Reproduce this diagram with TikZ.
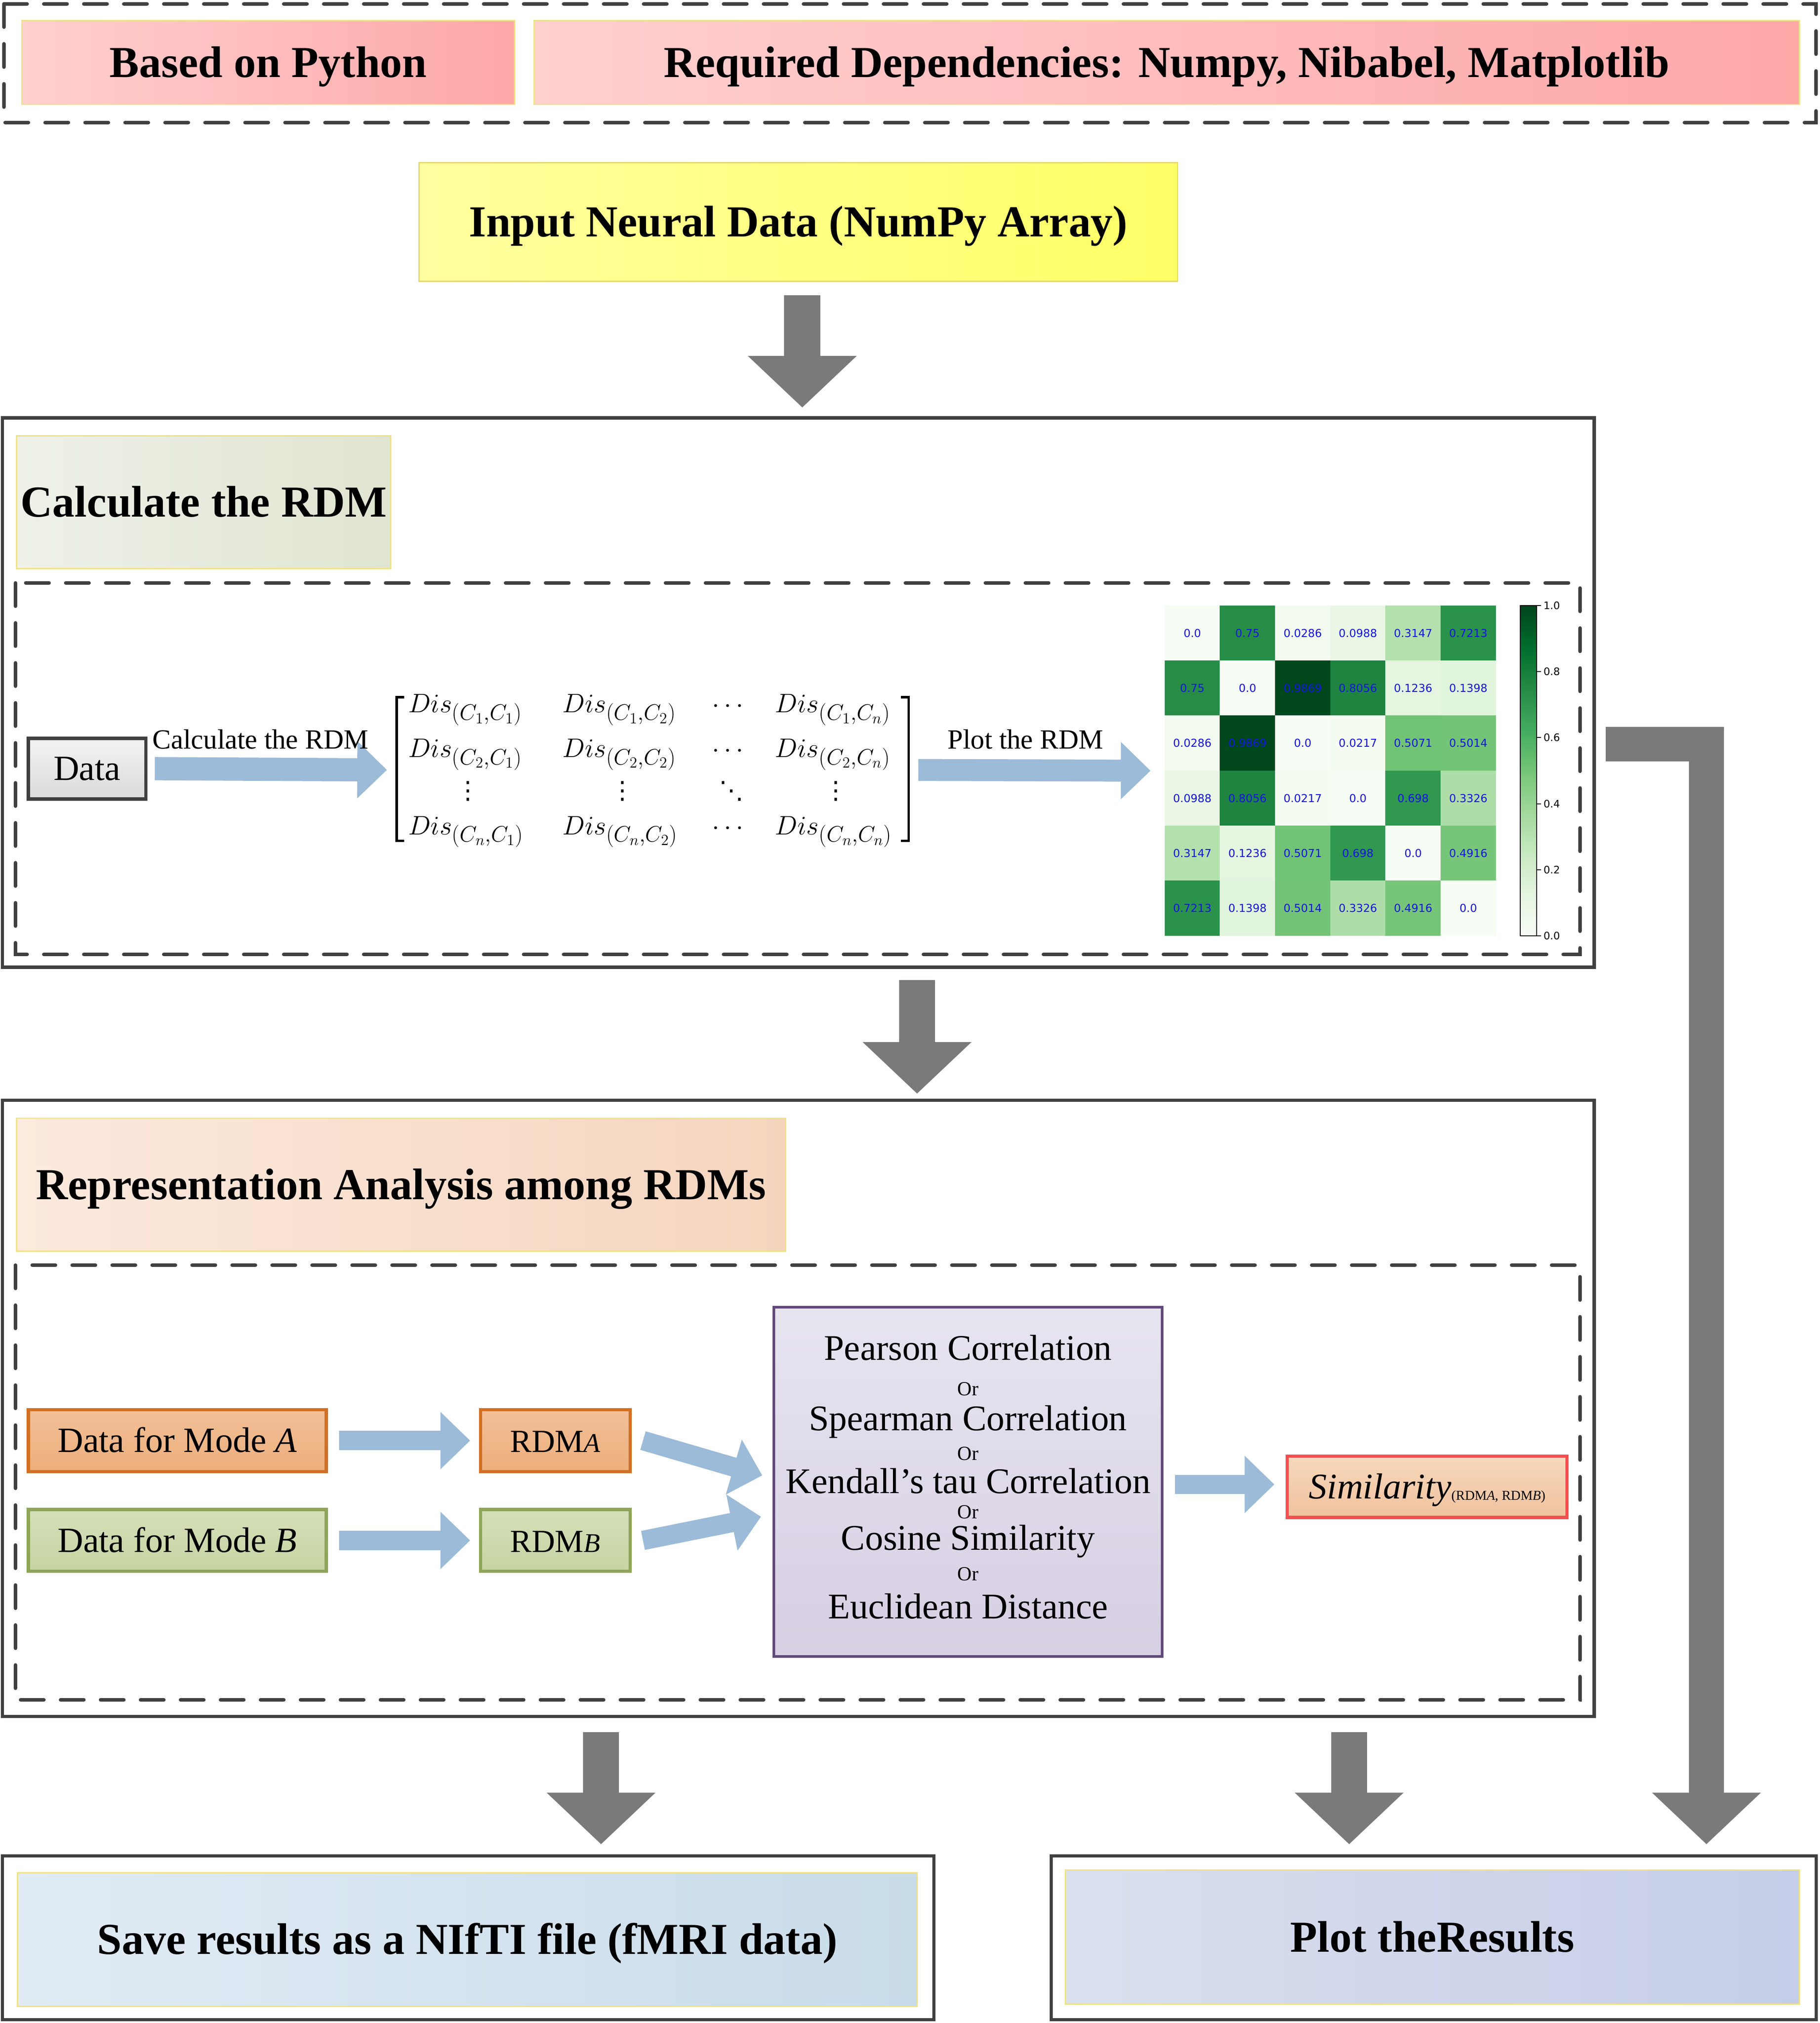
\documentclass[tikz,border=0pt]{standalone}
\usepackage{amsmath}
\usepackage{fontspec}
\setmainfont{Liberation Serif}
\newfontfamily\dvs{DejaVu Sans}
\usetikzlibrary{arrows.meta,calc}
\DeclareMathSizes{21}{21}{16.5}{12.5}

\definecolor{dg}{RGB}{64,64,64}
\definecolor{arrgray}{RGB}{122,122,122}
\definecolor{arrblue}{RGB}{155,187,217}
\definecolor{ybord}{RGB}{240,226,130}
\definecolor{pkL}{RGB}{255,208,208}
\definecolor{pkR}{RGB}{254,168,168}
\definecolor{ywL}{RGB}{255,255,160}
\definecolor{ywR}{RGB}{255,255,102}
\definecolor{ywB}{RGB}{230,215,110}
\definecolor{grL}{RGB}{239,241,233}
\definecolor{grR}{RGB}{223,229,208}
\definecolor{peL}{RGB}{252,234,222}
\definecolor{peR}{RGB}{245,213,190}
\definecolor{blL}{RGB}{225,235,244}
\definecolor{blR}{RGB}{201,220,234}
\definecolor{lvL}{RGB}{219,224,238}
\definecolor{lvR}{RGB}{197,205,232}
\definecolor{datT}{RGB}{243,243,243}
\definecolor{datB}{RGB}{218,218,218}
\definecolor{orT}{RGB}{242,192,152}
\definecolor{orB}{RGB}{236,174,124}
\definecolor{orD}{RGB}{210,112,36}
\definecolor{gnT}{RGB}{213,223,185}
\definecolor{gnB}{RGB}{198,212,162}
\definecolor{gnD}{RGB}{143,165,88}
\definecolor{mtT}{RGB}{231,228,240}
\definecolor{mtB}{RGB}{215,207,227}
\definecolor{mtD}{RGB}{96,74,123}
\definecolor{smT}{RGB}{246,216,188}
\definecolor{smB}{RGB}{240,194,158}
\definecolor{smD}{RGB}{242,80,80}
\definecolor{hmblue}{RGB}{20,20,225}
% Greens colormap anchors
\definecolor{g0}{RGB}{247,252,245}
\definecolor{g1}{RGB}{229,245,224}
\definecolor{g2}{RGB}{199,233,192}
\definecolor{g3}{RGB}{161,217,155}
\definecolor{g4}{RGB}{116,196,118}
\definecolor{g5}{RGB}{65,171,93}
\definecolor{g6}{RGB}{35,139,69}
\definecolor{g7}{RGB}{0,109,44}
\definecolor{g8}{RGB}{0,68,27}
% cell colours
\definecolor{hZero}{RGB}{247,252,245}
\definecolor{hA}{RGB}{244,251,241}   % 0.0217
\definecolor{hB}{RGB}{243,250,240}   % 0.0286
\definecolor{hC}{RGB}{233,247,228}   % 0.0988
\definecolor{hD}{RGB}{229,245,224}   % 0.1236
\definecolor{hE}{RGB}{225,244,220}   % 0.1398
\definecolor{hF}{RGB}{179,225,173}   % 0.3147
\definecolor{hG}{RGB}{174,222,168}   % 0.3326
\definecolor{hH}{RGB}{119,197,121}   % 0.4916
\definecolor{hI}{RGB}{115,196,118}   % 0.5014
\definecolor{hJ}{RGB}{113,195,117}   % 0.5071
\definecolor{hK}{RGB}{48,152,79}     % 0.698
\definecolor{hL}{RGB}{42,146,75}     % 0.7213
\definecolor{hM}{RGB}{38,140,70}     % 0.75
\definecolor{hN}{RGB}{30,132,64}     % 0.8056
\definecolor{hO}{RGB}{2,72,29}       % 0.9869

\newcommand\hd{\fontsize{34.3}{40}\selectfont\bfseries}
\newcommand\lbfont{\fontsize{21.5}{25}\selectfont}
\newcommand\hmfont{\dvs\fontsize{8.5}{10}\selectfont}
\newcommand\cbfont{\dvs\fontsize{8}{10}\selectfont}
\newcommand\mdfont{\fontsize{28}{32}\selectfont}
\newcommand\orfont{\fontsize{15.5}{18}\selectfont}
\newcommand\bxfont{\fontsize{27.5}{32}\selectfont}
\newcommand\mxfont{\fontsize{21}{25}\selectfont}
\newcommand\dotsfont{\dvs\fontsize{19}{19}\selectfont}

\tikzset{
  solidbox/.style={draw=dg, line width=2.5pt, inner sep=0pt, outer sep=0pt},
  dashbox/.style={draw=dg, line width=2.8pt, dash pattern=on 18pt off 13pt, line cap=round},
  titlebox/.style={draw=ybord, line width=1pt, inner sep=0pt, outer sep=0pt, align=center,
                   font=\hd, text height=22.7pt, text depth=0pt},
  smallbox/.style={line width=2.5pt, inner sep=0pt, outer sep=0pt, align=center,
                   font=\bxfont, text height=18.2pt, text depth=0pt},
  bluearrow/.style={draw=arrblue, line width=15pt, -{Triangle[width=43pt,length=23pt]}},
  grayarrow/.style={draw=arrgray, line width=28pt, -{Triangle[width=82pt,length=40pt]}},
  hmcell/.style={minimum width=42.9pt, minimum height=42.8pt, inner sep=0pt, outer sep=0pt,
                 text=hmblue, font=\hmfont},
  lab/.style={inner sep=0pt, outer sep=0pt, font=\lbfont, anchor=base},
  mtext/.style={inner sep=0pt, outer sep=0pt, font=\mdfont, anchor=base},
  ortext/.style={inner sep=0pt, outer sep=0pt, font=\orfont, anchor=base},
  mentry/.style={inner sep=0pt, outer sep=0pt, font=\mxfont, anchor=base west},
  mdots/.style={inner sep=0pt, outer sep=0pt, font=\mxfont},
  vdotsnode/.style={inner sep=0pt, outer sep=0pt, font=\dotsfont, text height=13pt, text depth=0pt},
}
\newcommand\hc[4]{\node[hmcell, fill=#4] (hm#1#2) at ({903+42.8*(#1-0.5)},{469.5+42.68*(#2-0.5)}) {#3};}

\begin{document}
\begin{tikzpicture}[x=1pt,y=-1pt]
\useasboundingbox (0,0) rectangle (1411,1568.6);
\fill[white] (0,0) rectangle (1411,1568.6);

% ---------- top banner ----------
\draw[dashbox] (3,3) rectangle (1408,95);
\node[titlebox, left color=pkL, right color=pkR, minimum width=382pt, minimum height=65pt]
  (python) at (208,48.5) {Based on Python};
\node[titlebox, left color=pkL, right color=pkR, minimum width=981pt, minimum height=65pt]
  (deps) at (904.5,48.5) {Required Dependencies: Numpy, Nibabel, Matplotlib};

% ---------- input ----------
\node[titlebox, draw=ywB, left color=ywL, right color=ywR, minimum width=588pt, minimum height=92pt]
  (input) at (619,172) {Input Neural Data (NumPy Array)};

% ---------- calculate RDM section ----------
\node[solidbox, minimum width=1234pt, minimum height=426pt] (calc) at (619,537) {};
\node[titlebox, left color=grL, right color=grR, minimum width=290pt, minimum height=103pt]
  (calctitle) at (158,389.5) {Calculate the RDM};
\draw[dashbox] (12,452) rectangle (1225,740);

\node[smallbox, draw=dg, top color=datT, bottom color=datB, minimum width=91pt, minimum height=47pt]
  (data) at (67.5,596) {Data};

% matrix
\node[inner sep=0pt, outer sep=0pt, minimum width=398pt, minimum height=112pt] (mat) at (506,597) {};
\draw[line width=2pt] (313.5,540.6) -- (307.5,540.6) -- (307.5,652) -- (313.5,652);
\draw[line width=2pt] (698.5,540.6) -- (704.5,540.6) -- (704.5,652) -- (698.5,652);
\node[mentry] (m11) at (316.5,552.6) {$Dis_{(C_1,C_1)}$};
\node[mentry] (m12) at (436,552.6) {$Dis_{(C_1,C_2)}$};
\node[mentry] (m14) at (601,552.6) {$Dis_{(C_1,C_n)}$};
\node[mentry] (m21) at (316.5,587) {$Dis_{(C_2,C_1)}$};
\node[mentry] (m22) at (436,587) {$Dis_{(C_2,C_2)}$};
\node[mentry] (m24) at (601,587) {$Dis_{(C_2,C_n)}$};
\node[mentry] (m41) at (316.5,647) {$Dis_{(C_n,C_1)}$};
\node[mentry] (m42) at (436,647) {$Dis_{(C_n,C_2)}$};
\node[mentry] (m44) at (601,647) {$Dis_{(C_n,C_n)}$};
\node[mdots, anchor=base] (m13) at (566,552.6) {$\cdots$};
\node[mdots, anchor=base] (m23) at (566,587) {$\cdots$};
\node[mdots, anchor=base] (m43) at (566,647) {$\cdots$};
\node[vdotsnode] (m31) at (363,613) {⋮};
\node[vdotsnode] (m32) at (482.5,613) {⋮};
\node[vdotsnode] (m33) at (567,613) {⋱};
\node[vdotsnode] (m34) at (648,613) {⋮};

\draw[bluearrow, line width=18pt] ([xshift=7pt]data.east) -- ([xshift=-7pt]mat.west);
\node[lab] (lab1) at (202,580.6) {Calculate the RDM};

% heatmap
\node[inner sep=0pt, outer sep=0pt, minimum width=257pt, minimum height=256pt] (hm) at (1031.5,597.6) {};
\draw[bluearrow, line width=17pt] ([xshift=7pt]mat.east) -- ([xshift=-11pt]hm.west);
\node[lab] (lab2) at (795,580.6) {Plot the RDM};

\hc11{0.0}{hZero}\hc21{0.75}{hM}\hc31{0.0286}{hB}\hc41{0.0988}{hC}\hc51{0.3147}{hF}\hc61{0.7213}{hL}
\hc12{0.75}{hM}\hc22{0.0}{hZero}\hc32{0.9869}{hO}\hc42{0.8056}{hN}\hc52{0.1236}{hD}\hc62{0.1398}{hE}
\hc13{0.0286}{hB}\hc23{0.9869}{hO}\hc33{0.0}{hZero}\hc43{0.0217}{hA}\hc53{0.5071}{hJ}\hc63{0.5014}{hI}
\hc14{0.0988}{hC}\hc24{0.8056}{hN}\hc34{0.0217}{hA}\hc44{0.0}{hZero}\hc54{0.698}{hK}\hc64{0.3326}{hG}
\hc15{0.3147}{hF}\hc25{0.1236}{hD}\hc35{0.5071}{hJ}\hc45{0.698}{hK}\hc55{0.0}{hZero}\hc65{0.4916}{hH}
\hc16{0.7213}{hL}\hc26{0.1398}{hE}\hc36{0.5014}{hI}\hc46{0.3326}{hG}\hc56{0.4916}{hH}\hc66{0.0}{hZero}

% colour bar
\foreach \k [evaluate=\k as \kk using int(\k+1)] in {0,...,7}{
  \shade[bottom color=g\k, top color=g\kk] (1178.6,{725.6-32.01*\k}) rectangle (1191.4,{725.6-32.01*(\k+1)});
}
\draw[line width=0.8pt] (1178.6,469.5) rectangle (1191.4,725.6);
\foreach \v/\t [count=\i] in {0/0.0,0.2/0.2,0.4/0.4,0.6/0.6,0.8/0.8,1/1.0}{
  \draw[line width=0.7pt] (1191.4,{725.6-256.1*\v}) -- (1194.8,{725.6-256.1*\v});
  \node[anchor=west, inner sep=0pt, font=\cbfont] (cb\i) at (1196.5,{725.6-256.1*\v}) {\t};
}

% ---------- arrows between sections ----------
\draw[grayarrow] ([xshift=3pt,yshift=-11pt]input.south) -- ([xshift=3pt,yshift=8pt]calc.north);

\node[solidbox, minimum width=1234pt, minimum height=478pt] (rep) at (619,1092) {};
\draw[grayarrow] ([xshift=92pt,yshift=-10pt]calc.south) -- ([xshift=92pt,yshift=5pt]rep.north);

% ---------- representation analysis section ----------
\node[titlebox, left color=peL, right color=peR, minimum width=596pt, minimum height=103pt]
  (reptitle) at (311,918.5) {Representation Analysis among RDMs};
\draw[dashbox] (12,981) rectangle (1225,1318);

\node[smallbox, draw=orD, top color=orT, bottom color=orB, minimum width=231pt, minimum height=48pt]
  (modeA) at (137.5,1117) {Data for Mode \textit{A}};
\node[smallbox, draw=gnD, top color=gnT, bottom color=gnB, minimum width=231pt, minimum height=48pt]
  (modeB) at (137.5,1194.4) {Data for Mode \textit{B}};
\node[smallbox, draw=orD, top color=orT, bottom color=orB, minimum width=116pt, minimum height=48pt]
  (rdmA) at (430.5,1117) {\fontsize{25}{30}\selectfont RDM{\fontsize{21}{24}\selectfont\itshape A}};
\node[smallbox, draw=gnD, top color=gnT, bottom color=gnB, minimum width=116pt, minimum height=48pt]
  (rdmB) at (430.5,1194.4) {\fontsize{25}{30}\selectfont RDM{\fontsize{21}{24}\selectfont\itshape B}};

\draw[bluearrow] ([xshift=10pt]modeA.east) -- ([xshift=-8pt]rdmA.west);
\draw[bluearrow] ([xshift=10pt]modeB.east) -- ([xshift=-8pt]rdmB.west);

\node[smallbox, draw=mtD, line width=2pt, top color=mtT, bottom color=mtB, minimum width=301pt, minimum height=271pt]
  (methods) at (750.5,1149) {};
\node[mtext] (mt1) at (750.5,1054.5) {Pearson Correlation};
\node[ortext] (mt2) at (750.5,1082) {Or};
\node[mtext] (mt3) at (750.5,1109.2) {Spearman Correlation};
\node[ortext] (mt4) at (750.5,1132.3) {Or};
\node[mtext] (mt5) at (750.5,1157.9) {Kendall’s tau Correlation};
\node[ortext] (mt6) at (750.5,1177.6) {Or};
\node[mtext] (mt7) at (750.5,1201.9) {Cosine Similarity};
\node[ortext] (mt8) at (750.5,1225.5) {Or};
\node[mtext] (mt9) at (750.5,1255) {Euclidean Distance};

\draw[bluearrow] ([xshift=10pt]rdmA.east) -- ([xshift=-9pt,yshift=5pt]methods.west);
\draw[bluearrow] ([xshift=10pt]rdmB.east) -- ([xshift=-10pt,yshift=-27pt]methods.west);

\node[smallbox, draw=smD, top color=smT, bottom color=smB, minimum width=217pt, minimum height=47.6pt,
      font=\fontsize{28}{32}\selectfont]
  (sim) at (1106.5,1152.8) {\textit{Similarity}\raisebox{-1pt}{\fontsize{10.5}{12}\selectfont(RDM\textit{A}, RDM\textit{B})}};
\draw[bluearrow] ($(methods.east |- sim.west)+(10,-1.8)$) -- ([xshift=-10pt,yshift=1.8pt]sim.west);

% ---------- bottom ----------
\node[solidbox, minimum width=722pt, minimum height=127pt] (saveouter) at (363,1502.5) {};
\node[titlebox, left color=blL, right color=blR, minimum width=697.5pt, minimum height=103.6pt]
  (saveinner) at (362.3,1503.8) {Save results as a NIfTI file (fMRI data)};
\node[solidbox, minimum width=593pt, minimum height=127pt] (plotouter) at (1111.5,1502.5) {};
\node[titlebox, left color=lvL, right color=lvR, minimum width=569pt, minimum height=104pt]
  (plotinner) at (1110.5,1502) {Plot theResults};

\draw[grayarrow] ([xshift=-153pt,yshift=-12pt]rep.south) -- ([xshift=103pt,yshift=9pt]saveouter.north);
\draw[grayarrow] ([xshift=427pt,yshift=-12pt]rep.south) -- ([xshift=-65.5pt,yshift=9pt]plotouter.north);

\coordinate (lA) at (1245,577);
\coordinate (lB) at (1323,577);
\draw[grayarrow, line width=27pt, line join=miter] (lA) -- (lB) -- ($(plotouter.north -| lB)+(0,-9)$);
\end{tikzpicture}
\end{document}
